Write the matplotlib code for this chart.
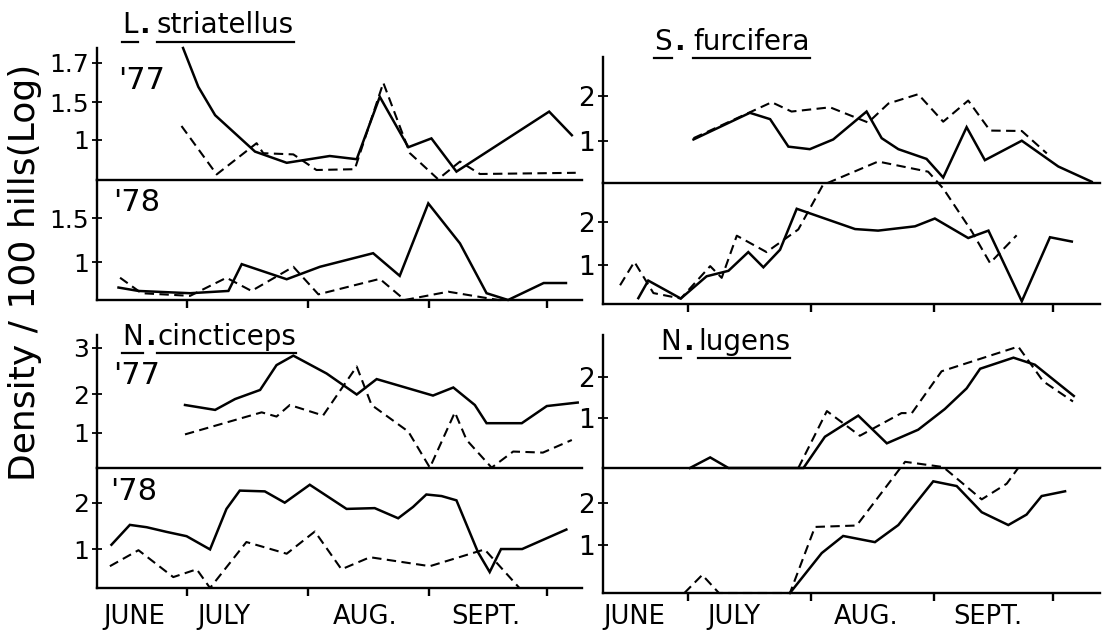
import matplotlib
matplotlib.use("Agg")
import matplotlib.pyplot as plt
from matplotlib.lines import Line2D
import matplotlib.transforms as mtransforms

plt.rcParams['font.family'] = ['DejaVu Sans']

W, H = 1105, 635
fig = plt.figure(figsize=(W / 100, H / 100), dpi=100)

# ---------------- data (x = days after 1 June) ----------------
month_ticks = [30, 61, 92, 122]
month_names = ['JUNE', 'JULY', 'AUG.', 'SEPT.']
month_pos_left = [16.5, 39.5, 75.5, 106.4]
month_pos_right = [16.5, 41.5, 75.0, 105.5]

# L. striatellus 1977
ls77_sx = [29.0, 32.9, 37.2, 47.4, 55.5, 66.5, 73.4, 79.3, 86.6, 92.5, 98.9, 122.6, 128.4]
ls77_sy = [3.30, 2.33, 1.62, 0.71, 0.43, 0.60, 0.52, 2.08, 0.82, 1.04, 0.21, 1.71, 1.12]
ls77_dx = [28.6, 37.6, 47.8, 49.5, 57.2, 63.1, 72.9, 80.2, 87.0, 94.2, 99.8, 104.9, 129.4]
ls77_dy = [1.35, 0.14, 0.92, 0.67, 0.64, 0.25, 0.27, 2.43, 0.67, 0.02, 0.46, 0.15, 0.18]
# L. striatellus 1978
ls78_sx = [12.5, 17.6, 30.8, 40.6, 44.0, 55.5, 64.0, 77.6, 84.4, 91.7, 99.8, 106.6, 112.1, 121.2, 126.9]
ls78_sy = [0.33, 0.24, 0.18, 0.24, 0.95, 0.55, 0.88, 1.24, 0.64, 2.56, 1.50, 0.18, 0.00, 0.45, 0.45]
ls78_dx = [12.9, 18.4, 30.8, 40.1, 46.5, 57.2, 63.6, 79.3, 85.7, 96.8, 109.6, 111.0]
ls78_dy = [0.59, 0.18, 0.11, 0.59, 0.24, 0.88, 0.15, 0.56, 0.00, 0.22, 0.00, 0.00]

# S. furcifera 1977
sf77_sx = [31.4, 45.6, 50.7, 55.3, 60.7, 66.6, 75.0, 78.8, 83.0, 90.1, 94.3, 100.2, 104.8, 114.1, 123.3, 131.7]
sf77_sy = [1.03, 1.66, 1.51, 0.86, 0.80, 1.03, 1.69, 1.06, 0.80, 0.57, 0.13, 1.32, 0.54, 1.00, 0.39, 0.03]
sf77_dx = [31.4, 46.0, 51.1, 56.1, 65.8, 75.4, 80.5, 88.0, 94.3, 100.6, 106.1, 114.1, 120.4]
sf77_dy = [1.06, 1.69, 1.91, 1.69, 1.79, 1.43, 1.88, 2.10, 1.45, 1.95, 1.24, 1.23, 0.70]
# S. furcifera 1978
sf78_sx = [17.5, 20.0, 28.2, 34.7, 40.2, 45.2, 49.0, 53.2, 57.4, 72.1, 77.9, 87.2, 92.2, 100.6, 105.7, 114.1, 121.2, 126.7]
sf78_sy = [0.15, 0.60, 0.14, 0.71, 0.85, 1.33, 0.94, 1.39, 2.44, 1.92, 1.88, 1.99, 2.19, 1.69, 1.88, 0.07, 1.71, 1.60]
sf78_dx = [12.9, 16.5, 21.3, 28.2, 35.6, 38.5, 42.3, 49.8, 57.8, 64.0, 77.9, 90.5, 94.3, 101.5, 106.1, 112.8]
sf78_dy = [0.48, 1.08, 0.28, 0.14, 0.97, 0.67, 1.75, 1.33, 1.91, 3.05, 3.65, 3.39, 2.96, 1.86, 1.05, 1.76]

# N. cincticeps 1977
nc77_sx = [29.5, 37.2, 42.3, 48.7, 52.9, 57.2, 65.7, 73.4, 78.5, 92.9, 98.1, 103.6, 106.6, 115.6, 122.0, 129.9]
nc77_sy = [1.80, 1.66, 1.97, 2.23, 2.94, 3.21, 2.70, 2.10, 2.54, 2.07, 2.30, 1.80, 1.28, 1.28, 1.77, 1.87]
nc77_dx = [29.5, 49.1, 52.9, 56.3, 64.8, 73.4, 77.2, 86.6, 92.1, 98.5, 101.5, 107.9, 113.4, 121.0, 128.4]
nc77_dy = [0.96, 1.59, 1.47, 1.80, 1.50, 2.90, 1.80, 1.04, 0.01, 1.59, 0.80, 0.01, 0.47, 0.44, 0.80]
# N. cincticeps 1978
nc78_sx = [10.7, 15.4, 19.7, 24.8, 29.9, 35.9, 40.1, 43.5, 49.9, 55.0, 61.4, 70.8, 78.0, 84.0, 87.8, 91.2, 95.1, 98.9, 104.4, 107.4, 110.3, 115.7, 127.0]
nc78_sy = [1.11, 1.62, 1.56, 1.44, 1.33, 0.99, 2.03, 2.50, 2.48, 2.19, 2.65, 2.03, 2.05, 1.79, 2.08, 2.40, 2.36, 2.25, 0.92, 0.41, 1.00, 1.00, 1.50]
nc78_dx = [10.3, 17.6, 26.5, 32.5, 35.9, 45.2, 55.5, 62.7, 69.5, 76.8, 92.1, 106.1, 115.0]
nc78_dy = [0.56, 0.97, 0.28, 0.48, 0.00, 1.18, 0.88, 1.45, 0.48, 0.79, 0.56, 0.99, 0.00]

# N. lugens 1977
nl77_sx = [30.5, 35.6, 40.2, 59.1, 64.5, 72.9, 80.1, 88.0, 94.7, 100.2, 103.6, 112.0, 117.4, 127.2]
nl77_sy = [0.00, 0.21, 0.00, 0.00, 0.62, 1.04, 0.49, 0.76, 1.17, 1.58, 1.97, 2.19, 2.05, 1.43]
nl77_dx = [57.8, 65.0, 73.3, 83.8, 86.4, 93.9, 113.2, 119.5, 127.0]
nl77_dy = [0.00, 1.13, 0.64, 1.09, 1.09, 1.92, 2.41, 1.72, 1.32]
# N. lugens 1978
nl78_sx = [55.7, 63.7, 69.1, 77.1, 83.0, 91.8, 97.7, 104.0, 110.7, 115.3, 119.1, 125.0]
nl78_sy = [0.00, 0.84, 1.20, 1.07, 1.43, 2.35, 2.25, 1.70, 1.43, 1.65, 2.04, 2.14]
nl78_dx = [29.1, 33.6, 37.8, 55.7, 62.0, 72.5, 84.7, 94.3, 104.0, 110.3, 113.2]
nl78_dy = [0.00, 0.38, 0.00, 0.00, 1.39, 1.42, 2.76, 2.65, 1.97, 2.30, 2.63]

# y tick positions (panel units) and their printed labels
ls77_ticks, ls77_labels = [1.0, 1.95, 2.93], ['1', '1.5', '1.7']
ls78_ticks, ls78_labels = [1.0, 2.17], ['1', '1.5']
sf77_ticks, sf77_labels = [1.0, 2.06], ['1', '2']
sf78_ticks, sf78_labels = [1.0, 2.10], ['1', '2']
nc77_ticks, nc77_labels = [1.0, 2.11, 3.43], ['1', '2', '3']
nc78_ticks, nc78_labels = [1.0, 2.19], ['1', '2']
nl77_ticks, nl77_labels = [1.0, 1.815], ['1', '2']
nl78_ticks, nl78_labels = [1.0, 1.90], ['1', '2']

# ---------------- layout helpers ----------------
def px_axes(x0, y0, x1, y1):
    ax = fig.add_axes([x0 / W, 1 - y1 / H, (x1 - x0) / W, (y1 - y0) / H])
    ax.patch.set_alpha(0)
    return ax

def style(ax, xlim, ytop, ticks, labels, bottom_ticks, fs):
    ax.set_xlim(*xlim)
    ax.set_ylim(0, ytop)
    for s in ['top', 'right']:
        ax.spines[s].set_visible(False)
    ax.spines['left'].set_linewidth(1.7)
    ax.spines['bottom'].set_linewidth(1.7)
    ax.set_yticks(ticks)
    ax.set_yticklabels(labels)
    ax.tick_params(axis='y', direction='inout', length=7, width=1.3, pad=2, labelsize=fs)
    if bottom_ticks:
        ax.set_xticks(month_ticks)
        ax.set_xticklabels([])
        ax.tick_params(axis='x', direction='out', length=6, width=1.7)
    else:
        ax.set_xticks([])

def draw(ax, sx, sy, dx, dy):
    ax.plot(sx, sy, color='black', lw=1.8, solid_joinstyle='miter', clip_on=False)
    ax.plot(dx, dy, color='black', lw=1.5, dashes=(4.5, 2.6), clip_on=False)

LX = (7.0, 131.0)
RX = (8.6, 133.8)
FL, FR = 18, 19

ax = px_axes(97, 48, 582, 180)
style(ax, LX, 3.30, ls77_ticks, ls77_labels, False, FL)
draw(ax, ls77_sx, ls77_sy, ls77_dx, ls77_dy)

ax = px_axes(97, 180, 582, 300)
style(ax, LX, 3.18, ls78_ticks, ls78_labels, True, FL)
draw(ax, ls78_sx, ls78_sy, ls78_dx, ls78_dy)

ax = px_axes(97, 335, 582, 468)
style(ax, LX, 3.80, nc77_ticks, nc77_labels, False, FL)
draw(ax, nc77_sx, nc77_sy, nc77_dx, nc77_dy)

ax_nc78 = px_axes(97, 468, 582, 588)
style(ax_nc78, LX, 3.08, nc78_ticks, nc78_labels, True, FL)
draw(ax_nc78, nc78_sx, nc78_sy, nc78_dx, nc78_dy)

ax = px_axes(603, 57, 1100, 183)
style(ax, RX, 2.98, sf77_ticks, sf77_labels, False, FR)
draw(ax, sf77_sx, sf77_sy, sf77_dx, sf77_dy)

ax = px_axes(603, 183, 1100, 304)
style(ax, RX, 3.10, sf78_ticks, sf78_labels, True, FR)
draw(ax, sf78_sx, sf78_sy, sf78_dx, sf78_dy)

ax = px_axes(603, 335, 1100, 468)
style(ax, RX, 2.64, nl77_ticks, nl77_labels, False, FR)
draw(ax, nl77_sx, nl77_sy, nl77_dx, nl77_dy)

ax_nl78 = px_axes(603, 468, 1100, 593)
style(ax_nl78, RX, 2.63, nl78_ticks, nl78_labels, True, FR)
draw(ax_nl78, nl78_sx, nl78_sy, nl78_dx, nl78_dy)

# month labels (centred about 617 px from the top)
for axm, pos, yoff in ((ax_nc78, month_pos_left, -0.24), (ax_nl78, month_pos_right, -0.19)):
    tr = mtransforms.blended_transform_factory(axm.transData, axm.transAxes)
    for name, p in zip(month_names, pos):
        axm.text(p, yoff, name, transform=tr, ha='center', va='center', fontsize=18.5)

# titles with underlines
renderer = fig.canvas.get_renderer()

def title(parts, y_base, y_ul, size=20):
    prev_end = None
    for s, x, ul in parts:
        if prev_end is not None:
            x = max(x, prev_end + 2)
        t = fig.text(x / W, 1 - y_base / H, s, ha='left', va='baseline', fontsize=size,
                     fontweight='bold' if s == '.' else 'normal')
        bb = t.get_window_extent(renderer)
        prev_end = bb.x1
        if ul:
            fig.add_artist(Line2D([bb.x0 / W, bb.x1 / W], [1 - y_ul / H] * 2,
                                  transform=fig.transFigure, color='black', lw=1.6))

title([('L', 122, True), ('.', 137, False), ('striatellus', 157, True)], 33, 42)
title([('S', 654, True), ('.', 673, False), ('furcifera', 693, True)], 50, 58)
title([('N', 122, True), ('.', 140, False), ('cincticeps', 157, True)], 345, 353)
title([('N', 660, True), ('.', 681, False), ('lugens', 698, True)], 350, 358)

# year labels
for s, x, y in (("'77", 118, 66), ("'78", 113, 188), ("'77", 113, 361), ("'78", 110, 477)):
    fig.text(x / W, 1 - y / H, s, ha='left', va='top', fontsize=22)

# y axis label
fig.text(25 / W, 1 - 272 / H, 'Density / 100 hills(Log)', rotation=90,
         ha='center', va='center', fontsize=26)

fig.savefig('out.png', dpi=100, facecolor='white')
